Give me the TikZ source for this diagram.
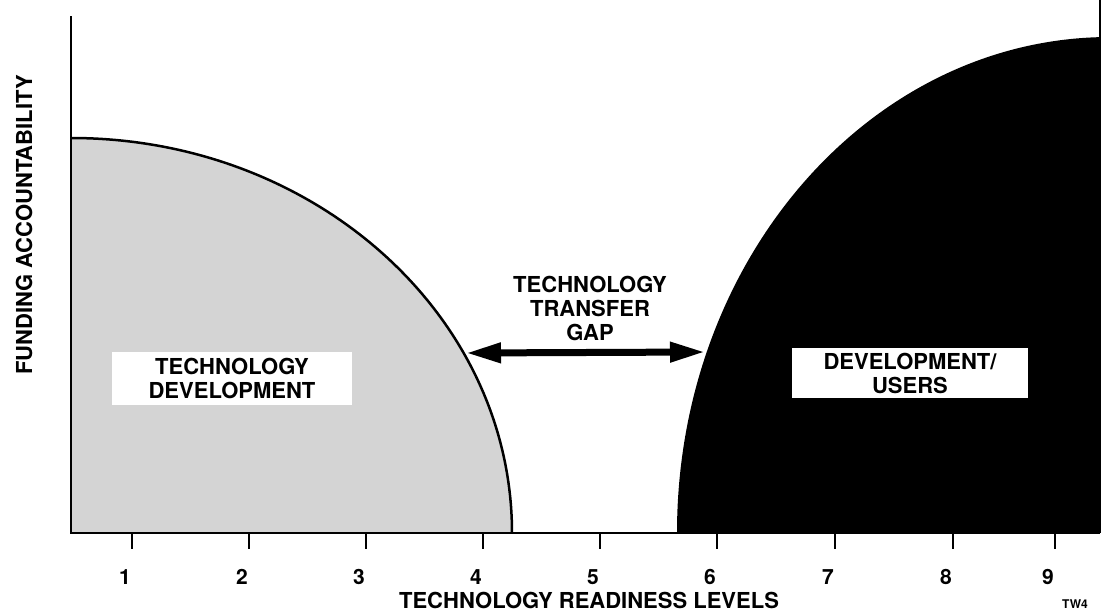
\documentclass[tikz,border=0pt]{standalone}
\usepackage{fontspec}
\setmainfont{TeX Gyre Heros}
\usetikzlibrary{arrows.meta}
\begin{document}
\begin{tikzpicture}[x=1pt,y=-1pt,
  lbl/.style={font=\fontsize{22}{24}\selectfont\bfseries, align=center, inner sep=0pt},
  num/.style={font=\fontsize{21}{24}\selectfont\bfseries, inner sep=0pt},
  axisline/.style={line width=2.8pt},
  tickline/.style={line width=2.2pt},
  whitebox/.style={fill=white, inner sep=0pt},
  gaparrow/.style={line width=7pt, {Triangle[length=35pt,width=19pt]}-{Triangle[length=35pt,width=19pt]}}]
\useasboundingbox (0,0) rectangle (1104,613);
\fill[white] (0,0) rectangle (1104,613);
% technology development region
\fill[black!17] (71,533) -- (71,138) arc[start angle=-90, end angle=0, x radius=441, y radius=395] -- cycle;
\draw[line width=2.5pt] (71,138) arc[start angle=-90, end angle=0, x radius=441, y radius=395];
% development / users region
\begin{scope}
  \clip (0,0) rectangle (1100,613);
  \fill[black] (677,533) arc[start angle=180, end angle=270, x radius=433, y radius=496] -- (1110,533) -- cycle;
\end{scope}
\draw[line width=1.5pt] (1100,0) -- (1100,533);
% axes
\draw[axisline] (71,16) -- (71,533) -- (1100,533);
\foreach \x/\n in {132/1,249/2,366/3,483/4,600/5,717/6,835/7,953/8,1055/9}{
  \draw[tickline] (\x,533) -- (\x,549);
  \node[num] (t\n) at (\x-7,577) {\n};
}
\node[lbl] (xlabel) at (589,600) {TECHNOLOGY READINESS LEVELS};
\node[lbl, rotate=90] (ylabel) at (24,225) {FUNDING ACCOUNTABILITY};
\node[lbl, whitebox, minimum width=240pt, minimum height=53pt] (td) at (232,378) {TECHNOLOGY\\DEVELOPMENT};
\node[lbl] (ttg) at (590,308) {TECHNOLOGY\\TRANSFER\\GAP};
\node[lbl, whitebox, minimum width=236pt, minimum height=50pt] (du) at (910,373) {DEVELOPMENT/\\USERS};
\coordinate (gapL) at (466,353);
\coordinate (gapR) at (705,352);
\draw[gaparrow] (gapL) -- (gapR);
\node[font=\fontsize{12}{13}\selectfont\bfseries, anchor=west, inner sep=0pt] (tw) at (1062,604) {TW4};
\end{tikzpicture}
\end{document}
